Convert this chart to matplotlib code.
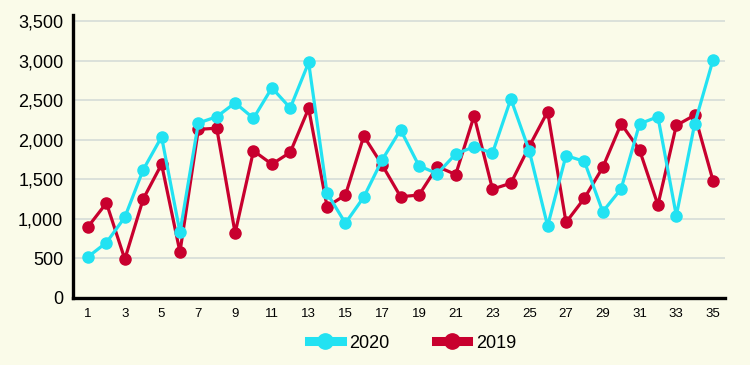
import matplotlib.pyplot as plt
from matplotlib.lines import Line2D

days = list(range(1, 36))
y2020 = [520, 700, 1020, 1620, 2035, 830, 2210, 2290, 2465, 2270,
         2655, 2400, 2975, 1325, 945, 1275, 1745, 2125, 1670, 1570,
         1820, 1910, 1830, 2515, 1860, 910, 1800, 1725, 1090, 1380,
         2200, 2290, 1040, 2200, 3010]
y2019 = [900, 1200, 490, 1250, 1690, 580, 2130, 2145, 820, 1860,
         1690, 1840, 2395, 1155, 1300, 2045, 1680, 1280, 1300, 1660,
         1560, 2300, 1375, 1450, 1915, 2355, 955, 1260, 1650, 2200,
         1870, 1175, 2180, 2310, 1480]
yticks = [0, 500, 1000, 1500, 2000, 2500, 3000, 3500]
xticks = list(range(1, 36, 2))

bg = '#fafbe9'
cyan = '#22e2f2'
red = '#c8002e'

plt.rcParams['font.family'] = ['Liberation Sans', 'DejaVu Sans']
fig = plt.figure(figsize=(7.5, 3.65), dpi=100, facecolor=bg)
ax = fig.add_axes([0.0973, 0.1836, 0.8694, 0.7753], facecolor=bg)

ax.plot(days, y2020, color=cyan, lw=2.3, marker='o', ms=8, zorder=3)
ax.plot(days, y2019, color=red, lw=2.3, marker='o', ms=8, zorder=2)

ax.set_xlim(0.18, 35.65)
ax.set_ylim(0, 3575)
ax.set_yticks(yticks)
ax.set_yticklabels([f'{v:,}' for v in yticks], fontsize=13)
ax.set_xticks(xticks)
ax.set_xticklabels([str(v) for v in xticks], fontsize=9.5)
ax.tick_params(axis='y', length=0, pad=7)
ax.tick_params(axis='x', length=0, pad=7)
ax.grid(axis='y', color='#d5dcd8', lw=1.2)
ax.set_axisbelow(True)
for s in ['top', 'right']:
    ax.spines[s].set_visible(False)
ax.spines['left'].set_linewidth(2.4)
ax.spines['bottom'].set_linewidth(2.4)

handles = [Line2D([], [], color=cyan, lw=6.5, marker='o', ms=11),
           Line2D([], [], color=red, lw=6.5, marker='o', ms=11)]
fig.legend(handles, ['2020', '2019'], loc='center', bbox_to_anchor=(0.55, 0.06),
           ncol=2, frameon=False, fontsize=13, handlelength=1.8,
           columnspacing=2.6, handletextpad=0.4)

fig.savefig('out.png', dpi=100, facecolor=bg)
